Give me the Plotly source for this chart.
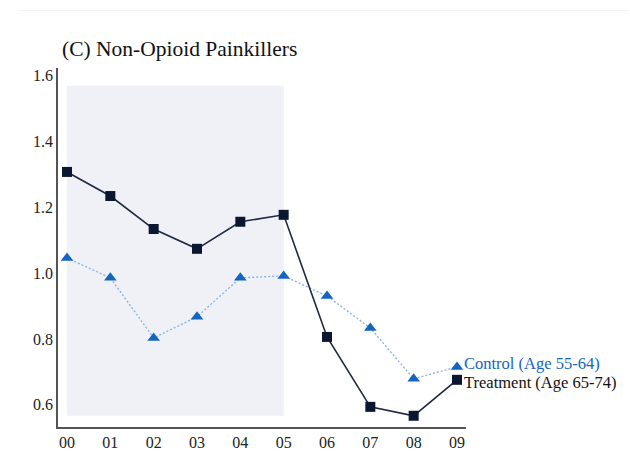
import plotly.graph_objects as go

years = ["00", "01", "02", "03", "04", "05", "06", "07", "08", "09"]
treatment = [1.306, 1.233, 1.133, 1.073, 1.155, 1.176, 0.806, 0.594, 0.567, 0.676]
control = [1.045, 0.985, 0.803, 0.867, 0.985, 0.991, 0.930, 0.833, 0.679, 0.715]
y_ticks = [0.6, 0.8, 1.0, 1.2, 1.4, 1.6]
y_tick_labels = ["0.6", "0.8", "1.0", "1.2", "1.4", "1.6"]
title_text = "(C) Non-Opioid Painkillers"
treat_label = "Treatment (Age 65-74)"
control_label = "Control (Age 55-64)"
shade_start, shade_end = 0, 5
shade_low, shade_high = 0.567, 1.567

xs = list(range(len(years)))
font = "Liberation Serif"
navy = "#0b1631"
blue = "#1565c0"

fig = go.Figure()
fig.add_shape(type="rect", xref="x", yref="y", x0=shade_start, x1=shade_end,
              y0=shade_low, y1=shade_high, fillcolor="#eff1f7", line_width=0, layer="below")

fig.add_trace(go.Scatter(x=xs, y=control, mode="lines", line=dict(color="#8fb3df", width=1.4, dash="2px,2px"),
                         showlegend=False, hoverinfo="skip"))
fig.add_trace(go.Scatter(x=xs, y=control, mode="markers",
                         marker=dict(symbol="triangle-up", size=11, color=blue), showlegend=False))
fig.add_trace(go.Scatter(x=xs, y=treatment, mode="lines+markers",
                         line=dict(color="#1e2840", width=1.6),
                         marker=dict(symbol="square", size=10, color=navy), showlegend=False))

fig.add_annotation(x=xs[-1], y=control[-1], text=control_label, xref="x", yref="y",
                   xanchor="left", yanchor="middle", xshift=5, yshift=3, showarrow=False,
                   font=dict(family=font, size=16.5, color=blue))
fig.add_annotation(x=xs[-1], y=treatment[-1], text=treat_label, xref="x", yref="y",
                   xanchor="left", yanchor="middle", xshift=5, yshift=-3, showarrow=False,
                   font=dict(family=font, size=16.5, color="#111111"))

fig.add_annotation(x=0, y=1.0, xref="paper", yref="paper", text=title_text, showarrow=False,
                   xanchor="left", yanchor="bottom", yshift=5, xshift=2,
                   font=dict(family=font, size=21.5, color="#111111"))

fig.update_xaxes(range=[-0.208, 9.208], tickmode="array", tickvals=xs, ticktext=years,
                 showgrid=False, zeroline=False, showline=True, linecolor="#555555", linewidth=1.5,
                 ticks="", tickfont=dict(family=font, size=16, color="#222222"))
fig.update_yaxes(range=[0.533, 1.621], tickmode="array", tickvals=y_ticks, ticktext=y_tick_labels,
                 showgrid=False, zeroline=False, showline=True, linecolor="#555555", linewidth=1.5,
                 ticks="", tickfont=dict(family=font, size=16, color="#222222"))

fig.add_shape(type="line", xref="paper", yref="paper", x0=-0.1, x1=1.4, y0=1.16, y1=1.16,
              line=dict(color="#f3f3f3", width=1))

fig.update_layout(width=630, height=466, margin=dict(l=58, r=164, t=68, b=39),
                  paper_bgcolor="white", plot_bgcolor="white", font=dict(family=font))

fig.write_html("out.html")
